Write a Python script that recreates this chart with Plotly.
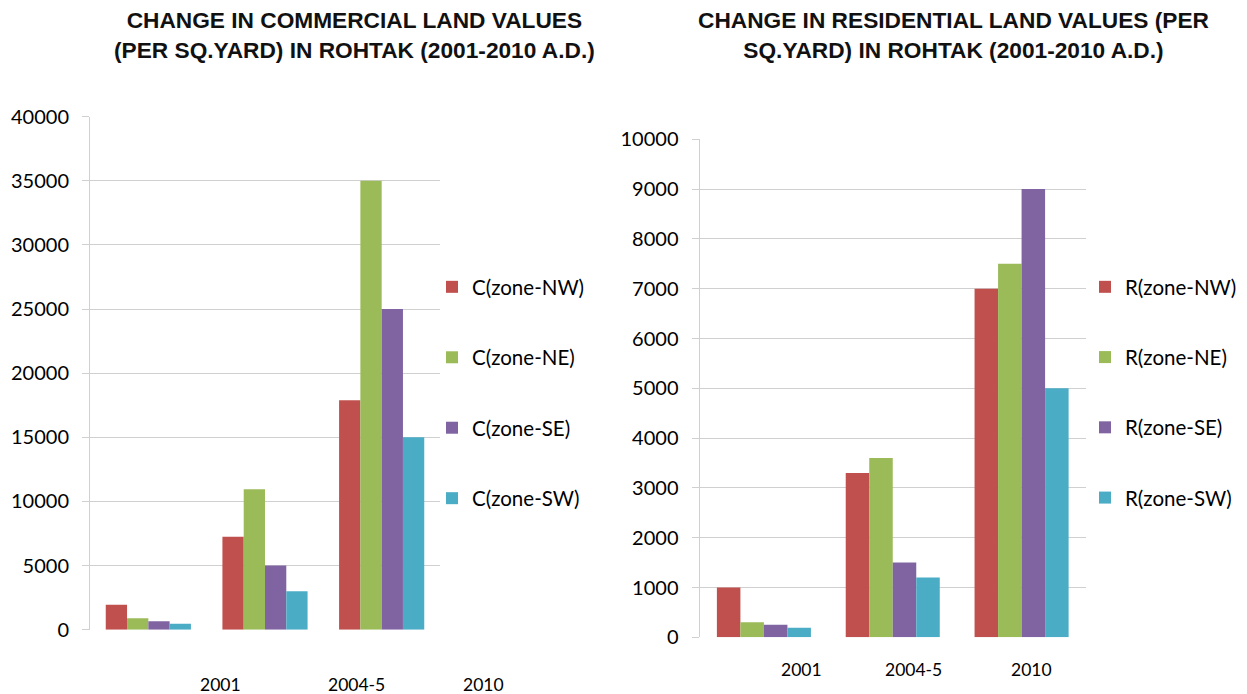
import plotly.graph_objects as go

categories = ["2001", "2004-5", "2010"]
zones = ["zone-NW", "zone-NE", "zone-SE", "zone-SW"]
colors = ["#C0504D", "#9BBB59", "#8064A2", "#4BACC6"]

commercial_nw = [1950, 7250, 17900]
commercial_ne = [900, 10950, 35000]
commercial_se = [650, 5000, 25000]
commercial_sw = [470, 3000, 15000]

residential_nw = [1000, 3300, 7000]
residential_ne = [300, 3600, 7500]
residential_se = [250, 1500, 9000]
residential_sw = [190, 1200, 5000]

commercial = [commercial_nw, commercial_ne, commercial_se, commercial_sw]
residential = [residential_nw, residential_ne, residential_se, residential_sw]

left_title = "CHANGE IN COMMERCIAL LAND VALUES<br>(PER SQ.YARD) IN ROHTAK (2001-2010 A.D.)"
right_title = "CHANGE IN RESIDENTIAL LAND VALUES (PER<br>SQ.YARD) IN ROHTAK (2001-2010 A.D.)"

# category label positions (the source chart's labels are shifted off the bar groups)
left_label_pos = [0.62, 1.78, 2.87]
right_label_pos = [0.29, 1.16, 2.075]

W, H = 1247, 694
FONT = "Lato, Open Sans, sans-serif"
GRID = "#D0D0D0"
XRANGE = [-0.5, 2.5]
LEFT_DOM = (90, 440)
RIGHT_DOM = (699.5, 1086)

def px(x):
    return x / W

def py(y):
    return (H - y) / H

def data_to_paper(v, dom):
    a, b = dom
    return px(a + (v - XRANGE[0]) / (XRANGE[1] - XRANGE[0]) * (b - a))

fig = go.Figure()
idx = list(range(len(categories)))
for i, z in enumerate(zones):
    fig.add_trace(go.Bar(x=idx, y=commercial[i], name="C(" + z + ")",
                         marker_color=colors[i], marker_line_width=0, xaxis="x", yaxis="y",
                         legend="legend", legendgroup="c" + str(i)))
for i, z in enumerate(zones):
    fig.add_trace(go.Bar(x=idx, y=residential[i], name="R(" + z + ")",
                         marker_color=colors[i], marker_line_width=0, xaxis="x2", yaxis="y2",
                         legend="legend2", legendgroup="r" + str(i)))

axis_common = dict(showgrid=False, zeroline=False, showline=False, ticks="",
                   showticklabels=False, range=XRANGE, fixedrange=True, automargin=False)
yaxis_common = dict(showgrid=True, gridcolor=GRID, gridwidth=1, zeroline=False,
                    showline=True, linecolor=GRID, linewidth=1, ticks="outside",
                    ticklen=7, tickcolor=GRID, tickformat="d", automargin=False,
                    tickfont=dict(family=FONT, size=20, color="#000"),
                    ticklabelstandoff=9)

annotations = []
for pos, lab in zip(left_label_pos, categories):
    annotations.append(dict(x=data_to_paper(pos, LEFT_DOM), y=py(684), xref="paper", yref="paper",
                            text=lab, showarrow=False, xanchor="center", yanchor="middle",
                            font=dict(family=FONT, size=17.5, color="#000")))
for pos, lab in zip(right_label_pos, categories):
    annotations.append(dict(x=data_to_paper(pos, RIGHT_DOM), y=py(669), xref="paper", yref="paper",
                            text=lab, showarrow=False, xanchor="center", yanchor="middle",
                            font=dict(family=FONT, size=17.5, color="#000")))
annotations.append(dict(x=px(354), y=py(35), xref="paper", yref="paper", text="<b>" + left_title + "</b>",
                        showarrow=False, align="center", xanchor="center", yanchor="middle",
                        font=dict(family="Liberation Sans, Arial", size=22.7, color="#111")))
annotations.append(dict(x=px(953), y=py(35), xref="paper", yref="paper", text="<b>" + right_title + "</b>",
                        showarrow=False, align="center", xanchor="center", yanchor="middle",
                        font=dict(family="Liberation Sans, Arial", size=22.7, color="#111")))

legend_common = dict(font=dict(family=FONT, size=20.5, color="#000"),
                     traceorder="grouped", bgcolor="rgba(0,0,0,0)", xanchor="left", yanchor="top",
                     itemwidth=30)

fig.update_layout(
    width=W, height=H, margin=dict(l=0, r=0, t=0, b=0, autoexpand=False),
    paper_bgcolor="white", plot_bgcolor="white",
    barmode="group", bargap=0.27, bargroupgap=0,
    xaxis=dict(domain=[px(LEFT_DOM[0]), px(LEFT_DOM[1])], anchor="y", **axis_common),
    yaxis=dict(domain=[py(629.7), py(116.7)], anchor="x", range=[0, 40000], dtick=5000, **yaxis_common),
    xaxis2=dict(domain=[px(RIGHT_DOM[0]), px(RIGHT_DOM[1])], anchor="y2", **axis_common),
    yaxis2=dict(domain=[py(637.3), py(139.3)], anchor="x2", range=[0, 10000], dtick=1000, **yaxis_common),
    legend=dict(x=px(432), y=py(267), tracegroupgap=40.8, **legend_common),
    legend2=dict(x=px(1085), y=py(267), tracegroupgap=40.6, **legend_common),
    annotations=annotations,
    showlegend=True,
)

fig.write_html("out.html", config={"displayModeBar": False},
               post_script="document.body.style.margin='0px';")
